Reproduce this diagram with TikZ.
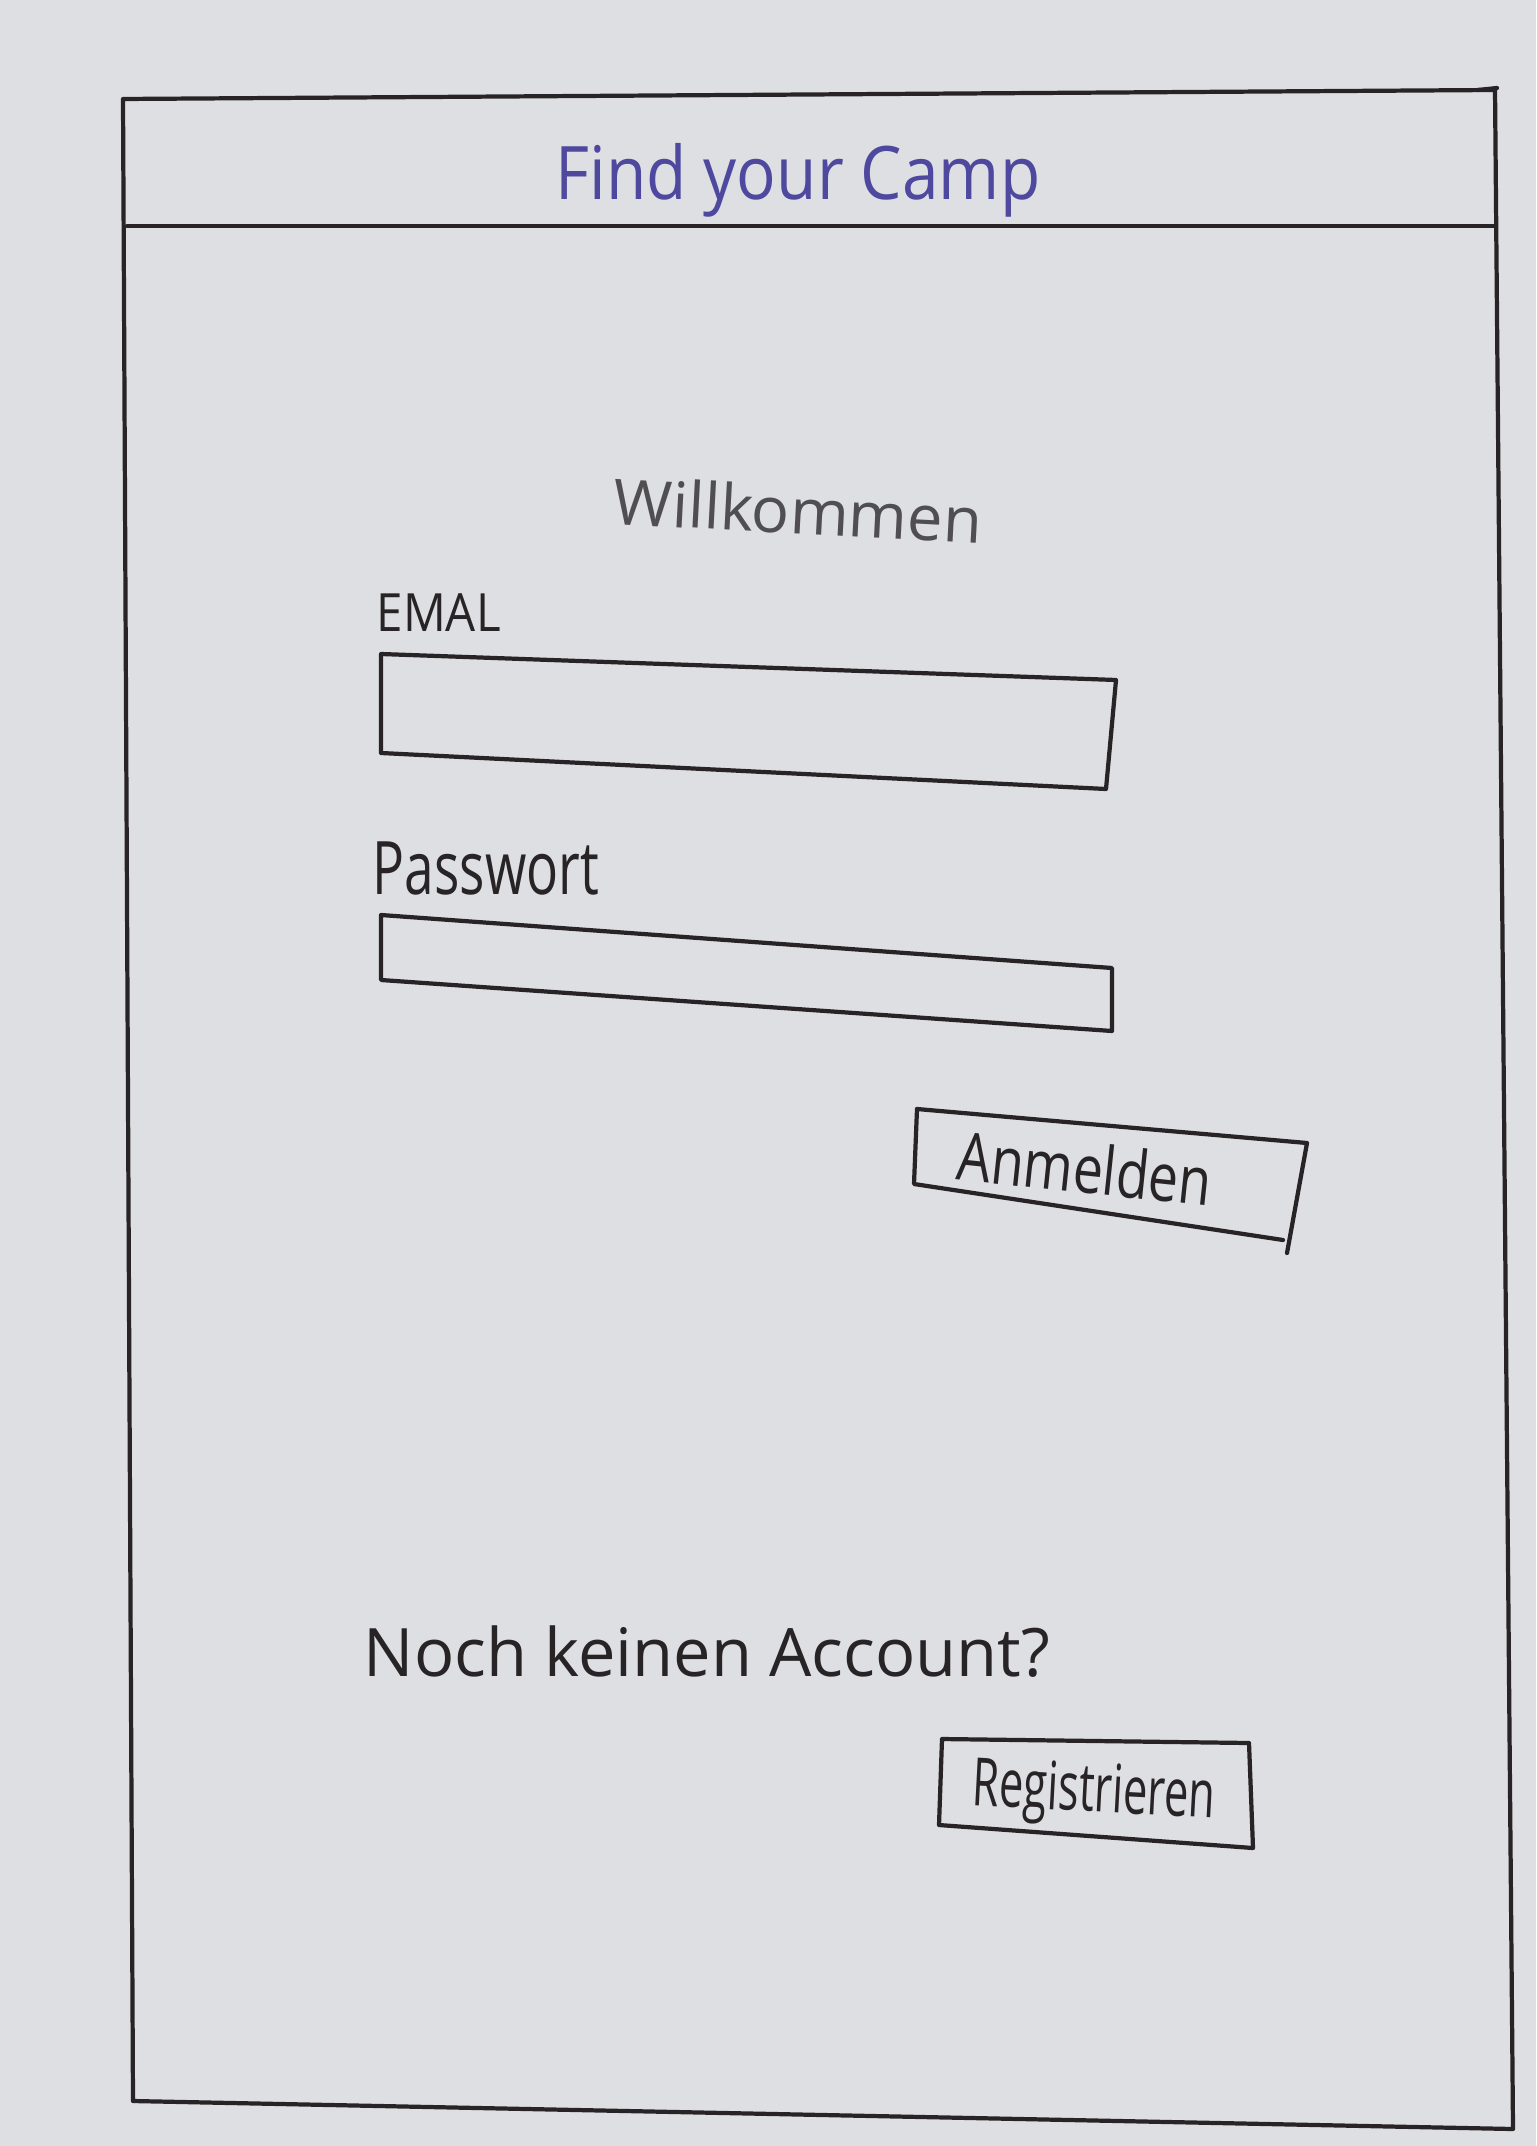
\documentclass[tikz,border=0pt]{standalone}
\usepackage{fontspec}
\setsansfont{Open Sans}
\definecolor{paper}{RGB}{221,223,226}
\definecolor{pen}{RGB}{40,36,38}
\definecolor{inkblue}{RGB}{78,72,158}
\definecolor{pencil}{RGB}{80,78,80}
\newcommand{\squeeze}[2]{\scalebox{#1}[1]{#2}}
\begin{document}
\begin{tikzpicture}[x=0.01cm,y=-0.01cm,
    sketch/.style={draw=pen,line width=1.2pt,line join=round,line cap=round},
    hand/.style={text=pen,font=\sffamily\fontsize{19}{22}\selectfont,inner sep=0pt}]
        % paper
        \fill[paper] (0,0) rectangle (1536,2146);
        \useasboundingbox (0,0) rectangle (1536,2146);

        % phone frame and title bar
        \draw[sketch] (123,99) -- (1495,90) -- (1513,2129) -- (133,2101) -- cycle;
        \draw[sketch] (1478,90) -- (1497,88);
        \draw[sketch] (127,226) -- (1495,226);
        \node[hand,text=inkblue,font=\sffamily\fontsize{21}{24}\selectfont] (title) at (798,180) {\squeeze{0.89}{Find your Camp}};

        \node[hand,text=pencil,rotate=-3,font=\sffamily\fontsize{18}{22}\selectfont] (welcome) at (798,510) {Willkommen};

        % login form
        \node[hand,anchor=west,font=\sffamily\fontsize{15}{18}\selectfont] (emaillabel) at (376,613) {\squeeze{0.9}{EMAL}};
        \draw[sketch] (381,654) -- (1116,680) -- (1106,789) -- (381,753) -- cycle;

        \node[hand,anchor=west,font=\sffamily\fontsize{21}{24}\selectfont] (pwlabel) at (372,868) {\squeeze{0.72}{Passwort}};
        \draw[sketch] (381,915) -- (1112,968) -- (1112,1031) -- (381,980) -- cycle;

        \draw[sketch] (917,1109) -- (1307,1143) -- (1287,1253);
        \draw[sketch] (917,1109) -- (914,1184) -- (1283,1240);
        \node[hand,rotate=-6] (login) at (1085,1168) {\squeeze{0.8}{Anmelden}};

        % sign up
        \node[hand,anchor=west] (noaccount) at (363,1652) {Noch keinen Account?};
        \draw[sketch] (942,1739) -- (1249,1743) -- (1253,1848) -- (939,1825) -- cycle;
        \node[hand,rotate=-3] (signup) at (1094,1795) {\squeeze{0.65}{Registrieren}};
    \end{tikzpicture}
\end{document}
